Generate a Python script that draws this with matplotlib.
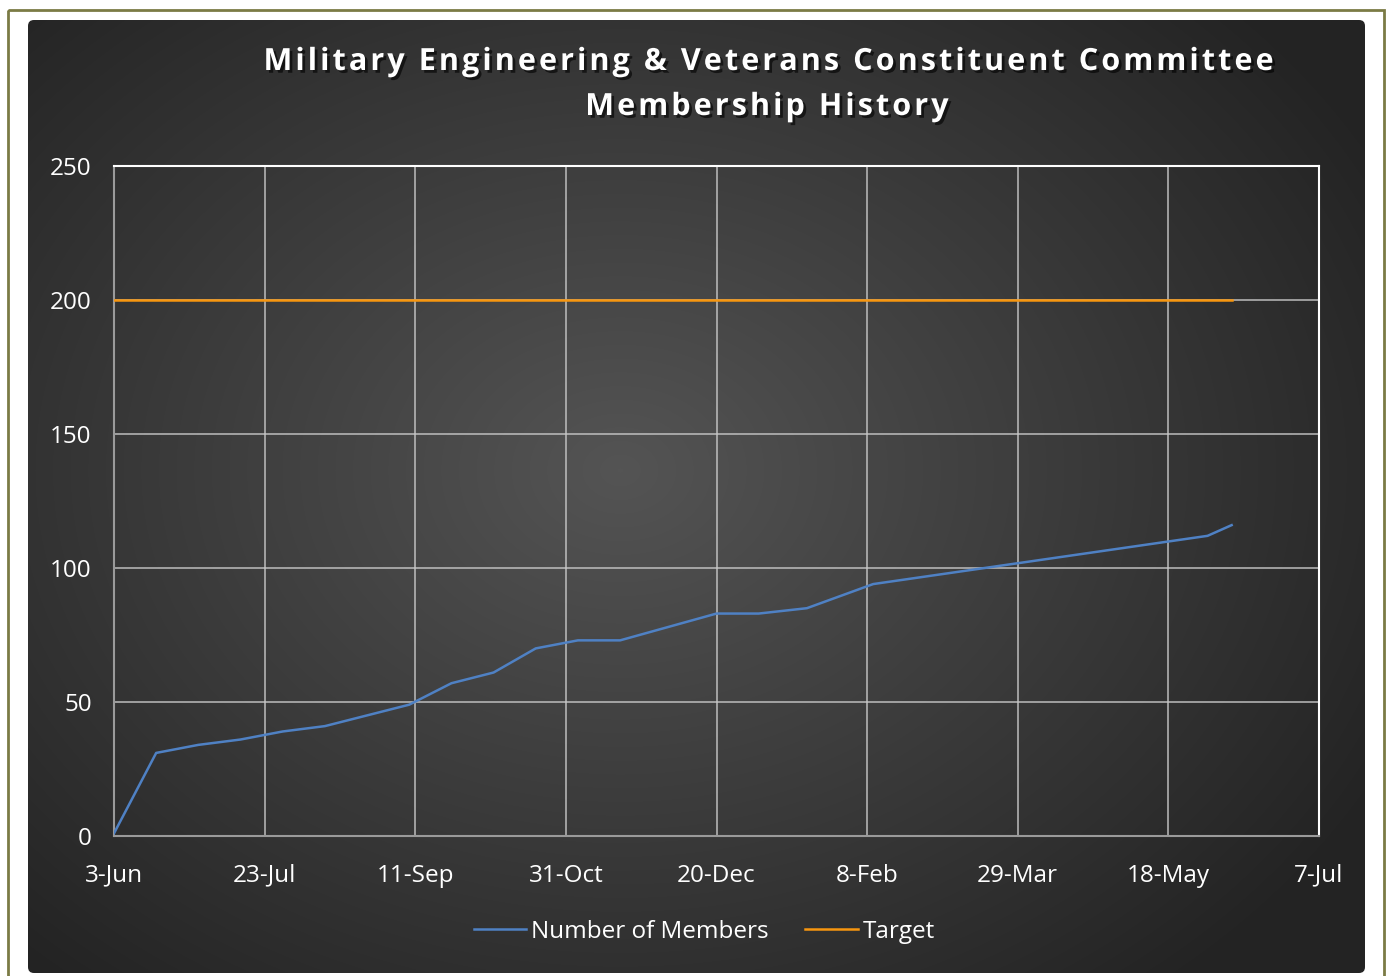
import numpy as np
import pandas as pd
import matplotlib
matplotlib.use('Agg')
import matplotlib.pyplot as plt
import matplotlib.dates as mdates
from matplotlib.patches import FancyBboxPatch, Rectangle
import matplotlib.patheffects as pe

# membership counts (day offsets from 3-Jun-2015)
start = pd.Timestamp('2015-06-03')
days = [0, 14, 28, 42, 56, 70, 98, 112, 126, 140, 154, 168, 200, 214, 230, 252, 363, 371]
members = [1, 31, 34, 36, 39, 41, 49, 57, 61, 70, 73, 73, 83, 83, 85, 94, 112, 116]
target = [200] * len(days)
dates = [start + pd.Timedelta(days=d) for d in days]

tick_days = [0, 50, 100, 150, 200, 250, 300, 350, 400]
yticks = [0, 50, 100, 150, 200, 250]

title_lines = ['Military Engineering & Veterans Constituent Committee', 'Membership History']

plt.rcParams['font.family'] = ['Open Sans', 'DejaVu Sans']

W, H = 1389, 976
fig = plt.figure(figsize=(W / 100, H / 100), dpi=100)
fig.patch.set_facecolor('white')

# background layer: olive frame + dark radial gradient panel
bg = fig.add_axes([0, 0, 1, 1])
bg.set_xlim(0, W)
bg.set_ylim(H, 0)
bg.axis('off')
bg.add_patch(Rectangle((8, 10), 1376, 980, fill=False, edgecolor='#7b7b45', lw=2))

yy, xx = np.mgrid[0:H, 0:W]
r = np.sqrt(((xx - 620) / 900.0) ** 2 + ((yy - 470) / 700.0) ** 2)
shade = np.clip(0.33 - 0.2 * r, 0.14, 0.33)
img = np.dstack([shade, shade, shade])
im = bg.imshow(img, extent=[0, W, H, 0], interpolation='bilinear', zorder=1)
panel = FancyBboxPatch((28, 20), 1337, 953, boxstyle='round,pad=0,rounding_size=6',
                       transform=bg.transData, facecolor='none', edgecolor='none')
bg.add_patch(panel)
im.set_clip_path(panel)

# letter-spaced title (hair spaces between characters)
spaced = ['\u200a'.join(line) for line in title_lines]
shadow = [pe.withSimplePatchShadow(offset=(2, -2), shadow_rgbFace='black', alpha=0.6)]
fig.text(766 / W, 1 - 62 / H, spaced[0], ha='center', va='center', color='white',
         fontsize=22, fontweight='bold', path_effects=shadow)
fig.text(766 / W, 1 - 107 / H, spaced[1], ha='center', va='center', color='white',
         fontsize=22, fontweight='bold', path_effects=shadow)

ax = fig.add_axes([114 / W, 1 - 836 / H, (1319 - 114) / W, (836 - 166) / H])
ax.patch.set_alpha(0)

ax.plot(dates, members, color='#4f81c4', lw=1.8, label='Number of Members', zorder=3)
ax.plot(dates, target, color='#f7960f', lw=1.8, label='Target', zorder=3)

ax.set_xlim(start, start + pd.Timedelta(days=400))
ax.set_ylim(0, 250)
ax.set_xticks([start + pd.Timedelta(days=d) for d in tick_days])
ax.xaxis.set_major_formatter(mdates.DateFormatter('%-d-%b'))
ax.set_yticks(yticks)
ax.grid(True, color='#c8c8c8', lw=1.2, alpha=0.85)
ax.tick_params(colors='white', labelsize=17.5, length=0)
ax.tick_params(axis='x', pad=20)
ax.tick_params(axis='y', pad=16)
for lab in ax.get_xticklabels() + ax.get_yticklabels():
    lab.set_color('white')
for s in ['left', 'bottom']:
    ax.spines[s].set_color('#9a9a9a')
    ax.spines[s].set_linewidth(1.5)
for s in ['top', 'right']:
    ax.spines[s].set_color('white')
    ax.spines[s].set_linewidth(1.5)

leg = ax.legend(loc='center', bbox_to_anchor=(0.49, -0.143), ncol=2, frameon=False,
                fontsize=17.5, labelcolor='white', handlelength=2.15, handletextpad=0.2,
                columnspacing=1.5)

fig.savefig('out.png', dpi=100, facecolor='white')
